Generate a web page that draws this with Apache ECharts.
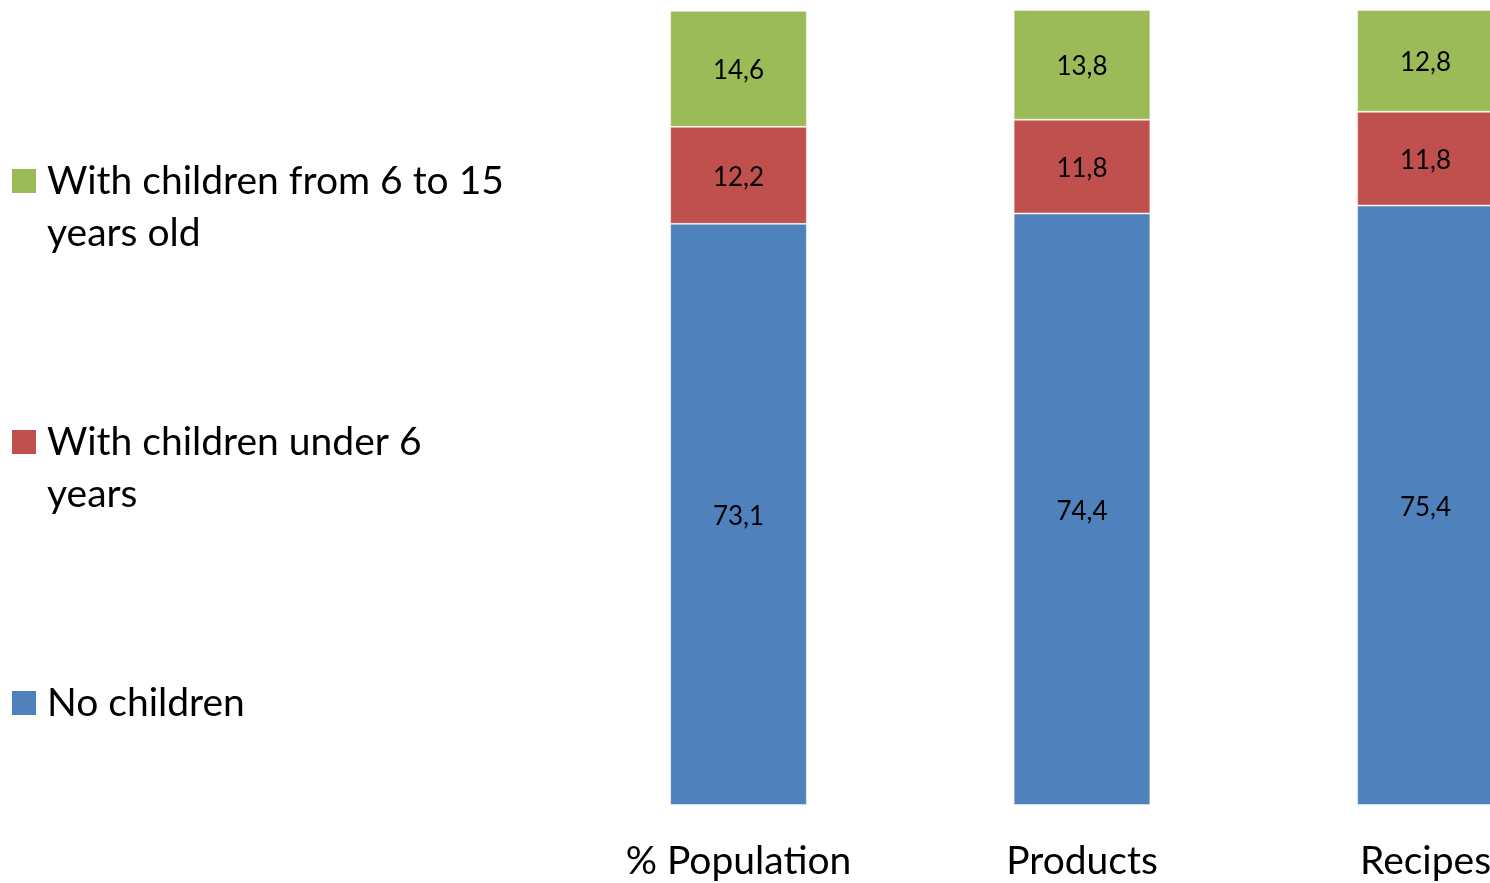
<!DOCTYPE html>
<html>
<head>
<meta charset="utf-8">
<title>Households by presence of children</title>
<script src="https://cdn.jsdelivr.net/npm/echarts@6/dist/echarts.min.js"></script>
<style>
  html, body { margin: 0; padding: 0; background: #fff; }
  #chart { width: 1490px; height: 883px; }
</style>
</head>
<body>
<div id="chart"></div>
<script>
// Share of households (%) by presence of children
const categories = ['% Population', 'Products', 'Recipes'];
const noChildren = [73.1, 74.4, 75.4];
const childrenUnder6 = [12.2, 11.8, 11.8];
const children6to15 = [14.6, 13.8, 12.8];

const seriesNames = ['No children', 'With children under 6 years', 'With children from 6 to 15 years old'];
// Legend text split onto lines; blank padding lines keep the first line level with the swatch
const legendText = {
  'No children': '\nNo children\n',
  'With children under 6 years': '\nWith children under 6\nyears',
  'With children from 6 to 15 years old': '\nWith children from 6 to 15\nyears old'
};

const colors = ['#4F81BD', '#C0504D', '#9BBB59'];
const FONT = 'Lato, "Open Sans", sans-serif';

function fmt(v) { return v.toFixed(1).replace('.', ','); }

function makeSeries(name, data, color) {
  return {
    name: name,
    type: 'bar',
    stack: 'total',
    barWidth: '39.8%',
    data: data,
    itemStyle: { color: color, borderColor: 'rgba(255,255,255,0.45)', borderWidth: 1 },
    label: {
      show: true,
      position: 'inside',
      color: '#000',
      fontFamily: FONT,
      fontSize: 26,
      offset: [0, 2],
      formatter: p => fmt(p.value)
    },
    emphasis: { disabled: true }
  };
}

const chart = echarts.init(document.getElementById('chart'), null, { renderer: 'canvas' });
chart.setOption({
  animation: false,
  color: colors,
  // the last column runs past the right edge of the canvas
  grid: {
    left: 566.75,
    width: 1030.5,
    top: 10,
    bottom: 78,
    containLabel: false,
    outerBoundsMode: 'none'
  },
  legend: {
    orient: 'vertical',
    left: 12,
    top: 103,
    padding: 0,
    icon: 'rect',
    itemWidth: 24,
    itemHeight: 24,
    itemGap: 105,
    data: [seriesNames[2], seriesNames[1], seriesNames[0]],
    itemStyle: { borderWidth: 0 },
    selectedMode: false,
    formatter: name => legendText[name],
    textStyle: {
      fontFamily: FONT,
      fontSize: 39,
      lineHeight: 52,
      color: '#000',
      padding: [0, 0, 0, 6]
    }
  },
  xAxis: {
    type: 'category',
    data: categories,
    axisLine: { show: false },
    axisTick: { show: false },
    axisLabel: {
      color: '#000',
      fontFamily: FONT,
      fontSize: 39,
      margin: 37,
      interval: 0
    }
  },
  yAxis: {
    type: 'value',
    min: 0,
    max: 100,
    show: false,
    splitLine: { show: false }
  },
  series: [
    makeSeries(seriesNames[0], noChildren, colors[0]),
    makeSeries(seriesNames[1], childrenUnder6, colors[1]),
    makeSeries(seriesNames[2], children6to15, colors[2])
  ]
});
</script>
</body>
</html>
